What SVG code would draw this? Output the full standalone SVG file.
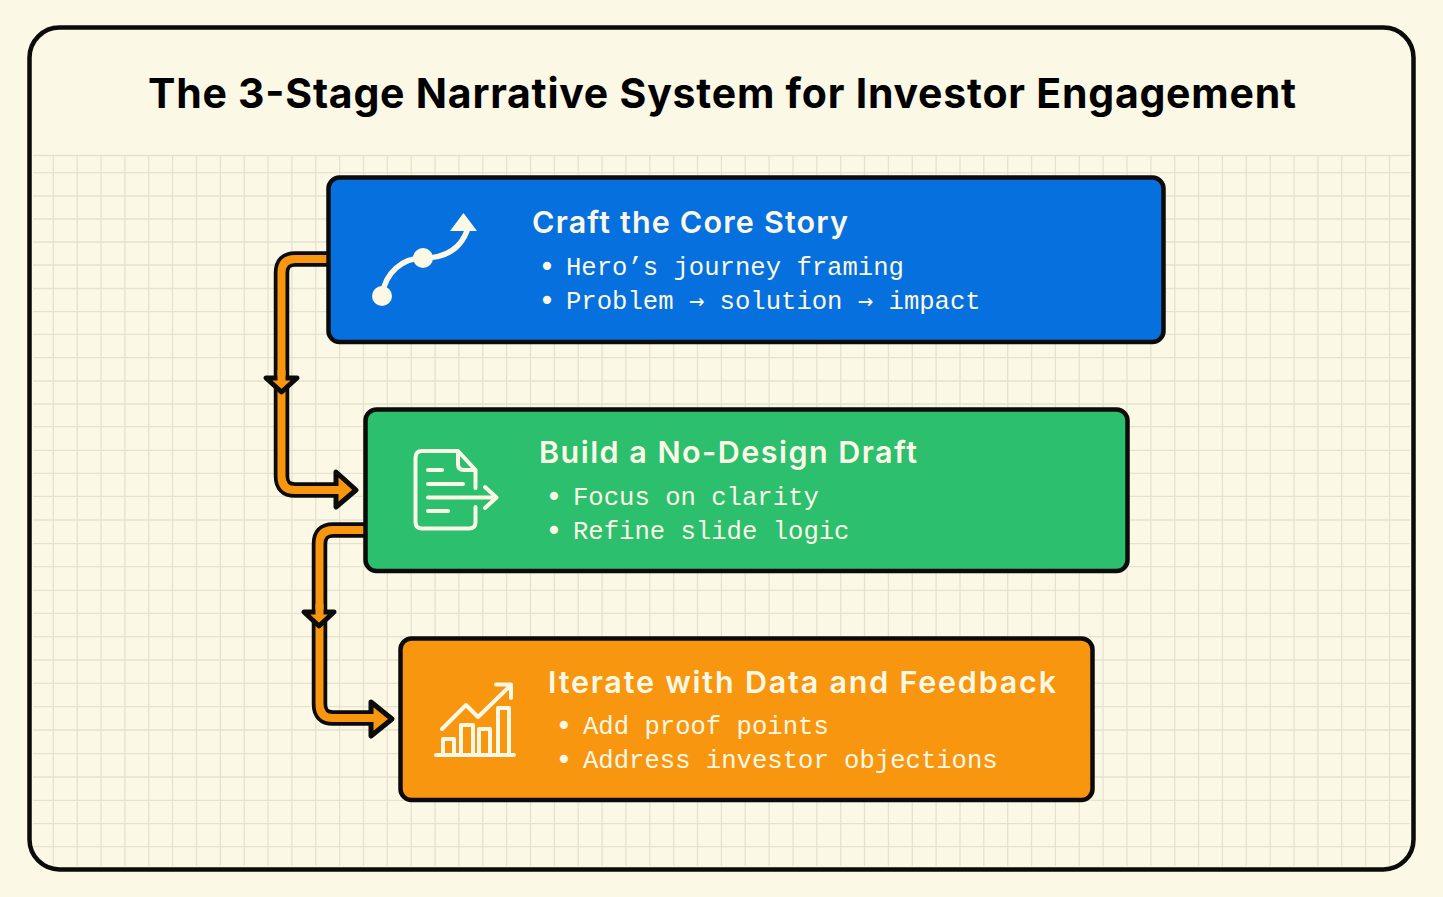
<svg xmlns="http://www.w3.org/2000/svg" width="1443" height="897" viewBox="0 0 1443 897">
<style>
.t{font-family:"Inter","Noto Sans",sans-serif;font-weight:700}
.h{font-family:"Inter","Noto Sans",sans-serif;font-weight:600;font-size:30.500px;fill:#FBF8E6}
.b{font-family:"Liberation Mono","DejaVu Sans Mono",monospace;font-size:25.6px;fill:#FBF8E6}
.d{font-family:"DejaVu Sans Mono",monospace;font-size:28px;fill:#FBF8E6;text-anchor:middle}
.a{font-family:"DejaVu Sans Mono",monospace;font-size:25.5px}
.g{stroke:#E5E2D0;stroke-width:1.3;fill:none}
.box{stroke:#0B0B0B;stroke-width:4.500}
.ln{fill:none;stroke:#FBF8E6;stroke-linecap:round;stroke-linejoin:round}
.co{fill:none;stroke:#0B0B0B;stroke-width:15.500}
.ci{fill:none;stroke:#F8960F;stroke-width:8}
.hd{fill:#F8960F;stroke:#0B0B0B;stroke-width:5;stroke-linejoin:round}
</style>
<rect width="1443" height="897" fill="#FBF8E6"/>
<path class="g" d="M53.300 156V866M77.200 156V866M101 156V866M124.900 156V866M148.700 156V866M172.600 156V866M196.500 156V866M220.300 156V866M244.200 156V866M268 156V866M291.900 156V866M315.800 156V866M339.600 156V866M363.500 156V866M387.300 156V866M411.200 156V866M435.100 156V866M458.900 156V866M482.800 156V866M506.600 156V866M530.500 156V866M554.400 156V866M578.200 156V866M602.100 156V866M625.900 156V866M649.800 156V866M673.700 156V866M697.500 156V866M721.400 156V866M745.200 156V866M769.100 156V866M793 156V866M816.800 156V866M840.700 156V866M864.500 156V866M888.400 156V866M912.300 156V866M936.100 156V866M960 156V866M983.800 156V866M1007.700 156V866M1031.600 156V866M1055.400 156V866M1079.300 156V866M1103.100 156V866M1127 156V866M1150.900 156V866M1174.700 156V866M1198.600 156V866M1222.400 156V866M1246.300 156V866M1270.200 156V866M1294 156V866M1317.900 156V866M1341.700 156V866M1365.600 156V866M1389.500 156V866"/>
<path class="g" d="M33 155.500H1410M33 172.700H1410M33 196H1410M33 219H1410M33 242H1410M33 265H1410M33 288.500H1410M33 311.700H1410M33 334.300H1410M33 357.700H1410M33 381H1410M33 404H1410M33 426.700H1410M33 450.300H1410M33 473.300H1410M33 496.300H1410M33 520H1410M33 543.700H1410M33 566.700H1410M33 590.300H1410M33 613.300H1410M33 636.700H1410M33 660H1410M33 683.300H1410M33 706.700H1410M33 730H1410M33 753.700H1410M33 777H1410M33 800.300H1410M33 823.700H1410M33 846.700H1410"/>
<rect id="frame" x="29.500" y="27.500" width="1384" height="842" rx="30" fill="none" stroke="#0B0B0B" stroke-width="4.500"/>
<text id="title" class="t" x="148" y="108" font-size="41" textLength="1148" lengthAdjust="spacing">The 3-Stage Narrative System for Investor Engagement</text>
<g id="connectors">
<path class="co" d="M330 259H295Q281.500 259 281.500 273V476Q281.500 490 295 490H340"/>
<path class="ci" d="M330 259H295Q281.500 259 281.500 273V476Q281.500 490 295 490H340"/>
<path class="hd" d="M336 472L356 490L336 507Z"/>
<path class="hd" d="M266 378H297L281.500 392Z"/>
<path class="ci" d="M281.500 370V384M332 490H342"/>
<path class="co" d="M367 530H333Q319.500 530 319.500 544V704Q319.500 718 333 718H375"/>
<path class="ci" d="M367 530H333Q319.500 530 319.500 544V704Q319.500 718 333 718H375"/>
<path class="hd" d="M371 702L392 719L371 736Z"/>
<path class="hd" d="M304 612H334L319 626Z"/>
<path class="ci" d="M319.500 604V618M366 718H378"/>
</g>
<g id="node-craft">
<rect class="box" x="328.500" y="177.500" width="835" height="164.500" rx="11" fill="#0670DE"/>
<path class="ln" stroke-width="5.500" d="M382 296C385 272 403 258 423 258C445 258 461 250 468 228"/>
<circle cx="382" cy="296" r="10" fill="#FBF8E6"/><circle cx="423" cy="258" r="10" fill="#FBF8E6"/>
<path d="M463.500 213L477 231H450Z" fill="#FBF8E6"/>
<text class="h" x="532" y="233" textLength="316" lengthAdjust="spacing">Craft the Core Story</text>
<text class="d" x="547" y="276">•</text><text class="b" x="566" y="275">Hero’s journey framing</text>
<text class="d" x="547" y="310">•</text><text class="b" x="566" y="309">Problem <tspan class="a">→</tspan> solution <tspan class="a">→</tspan> impact</text>
</g>
<g id="node-build">
<rect class="box" x="365.500" y="409.500" width="762" height="161.500" rx="11" fill="#2BBF6E"/>
<path class="ln" stroke-width="4" d="M475.500 488V470L458 451H422Q415.500 451 415.500 458V522Q415.500 528.500 422 528.500H469Q475.500 528.500 475.500 522V507M458 451V464Q458 470 464 470H475.500M428 470H442M428 484H463M428 497.500H496M485 487L496.500 497.500L485 508M428 511H448"/>
<text class="h" x="539" y="463" textLength="378" lengthAdjust="spacing">Build a No-Design Draft</text>
<text class="d" x="554" y="506">•</text><text class="b" x="573" y="505">Focus on clarity</text>
<text class="d" x="554" y="540">•</text><text class="b" x="573" y="539">Refine slide logic</text>
</g>
<g id="node-iterate">
<rect class="box" x="400.500" y="638.500" width="692" height="161.500" rx="11" fill="#F8960F"/>
<path class="ln" stroke-width="4" d="M436 755H514M443 754V739H454V754M461 754V725H473V754M479 754V729H490V754M498 754V708H509V754M442 729L466 705L478 717L510 686M496 684.500H511V698"/>
<text class="h" x="548" y="693" textLength="508" lengthAdjust="spacing">Iterate with Data and Feedback</text>
<text class="d" x="564" y="735">•</text><text class="b" x="583" y="734">Add proof points</text>
<text class="d" x="564" y="769">•</text><text class="b" x="583" y="768">Address investor objections</text>
</g>
</svg>
